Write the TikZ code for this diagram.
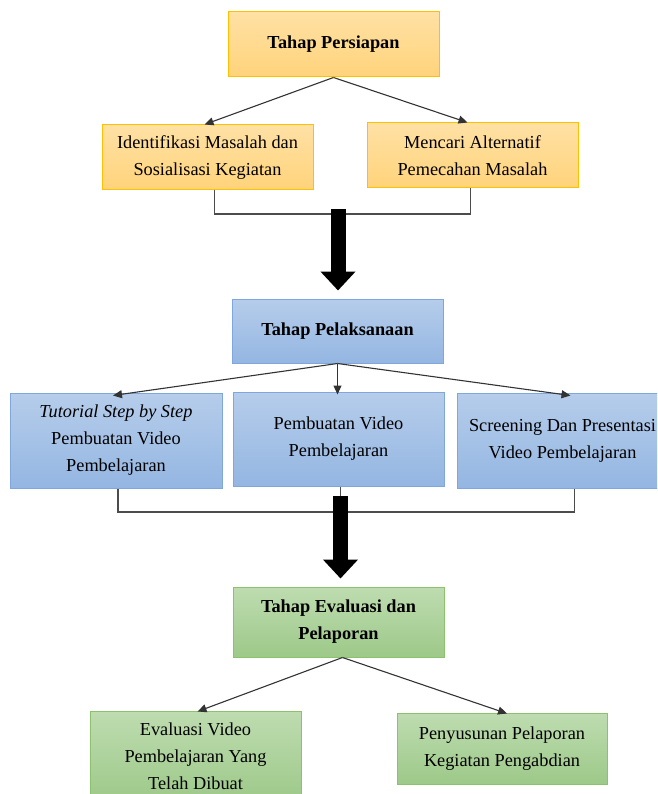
\documentclass[tikz,border=0pt]{standalone}
\usepackage{fontspec}
\setmainfont{Liberation Serif}
\usepackage{tikz}
\usetikzlibrary{arrows.meta}
\definecolor{PrepTop}{HTML}{FFE1A5}
\definecolor{PrepBot}{HTML}{FFD37A}
\definecolor{PrepLine}{HTML}{FFC000}
\definecolor{ExecTop}{HTML}{B6CDEB}
\definecolor{ExecBot}{HTML}{94B6E2}
\definecolor{ExecLine}{HTML}{7FA7DC}
\definecolor{EvalTop}{HTML}{BEDCB0}
\definecolor{EvalBot}{HTML}{9DC989}
\definecolor{EvalLine}{HTML}{8CC26C}
\tikzset{
  flow/box/.style={draw, line width=1pt, align=center, minimum width=211pt, minimum height=65pt, inner sep=2pt, font=\fontsize{18.3}{27}\selectfont},
  flow/prep/.style={flow/box, draw=PrepLine, top color=PrepTop, bottom color=PrepBot},
  flow/exec/.style={flow/box, draw=ExecLine, top color=ExecTop, bottom color=ExecBot},
  flow/eval/.style={flow/box, draw=EvalLine, top color=EvalTop, bottom color=EvalBot},
  flow/head/.style={font=\fontsize{18.3}{27}\selectfont\bfseries},
  flow/arr/.style={-{Triangle[length=9pt,width=8pt]}, line width=1.1pt, draw=black!80},
  flow/join/.style={line width=1.1pt, draw=black!70},
  flow/bigarr/.style={-{Triangle[length=19pt,width=34pt]}, line width=15pt, draw=black}
}
\begin{document}
\begin{tikzpicture}[x=1pt,y=-1pt]
  \useasboundingbox (0,0) rectangle (657,794);
  \clip (0,0) rectangle (657,794);
  \fill[white] (0,0) rectangle (657,794);

  % tahap persiapan
  \node[flow/prep, flow/head] (persiapan) at (333.5,44.5) {Tahap Persiapan};
  \node[flow/prep] (identifikasi) at (207.5,157.5) {Identifikasi Masalah dan\\Sosialisasi Kegiatan};
  \node[flow/prep] (mencari) at (472.5,155.5) {Mencari Alternatif\\Pemecahan Masalah};

  % tahap pelaksanaan
  \node[flow/exec, flow/head, minimum height=64pt] (pelaksanaan) at (337.5,331) {Tahap Pelaksanaan};
  \node[flow/exec, minimum width=212pt, minimum height=95pt] (tutorial) at (116,440.5) {\textit{Tutorial Step by Step}\\Pembuatan Video\\Pembelajaran};
  \node[flow/exec, minimum height=94pt] (pembuatan) at (338.5,439) {Pembuatan Video\\Pembelajaran};
  \node[flow/exec, minimum height=95pt] (screening) at (562.5,440.5) {Screening Dan Presentasi\\Video Pembelajaran};

  % tahap evaluasi
  \node[flow/eval, flow/head, minimum height=70pt] (evaluasi) at (338.5,622) {Tahap Evaluasi dan\\Pelaporan};
  \node[flow/eval, minimum height=91pt] (evalvideo) at (195.5,756.5) {Evaluasi Video\\Pembelajaran Yang\\Telah Dibuat};
  \node[flow/eval, minimum width=210pt, minimum height=71pt] (penyusunan) at (502,748.5) {Penyusunan Pelaporan\\Kegiatan Pengabdian};

  \draw[flow/arr] (persiapan.south) -- ([xshift=-3pt]identifikasi.north);
  \draw[flow/arr] (persiapan.south) -- ([xshift=-5pt]mencari.north);
  \draw[flow/arr] (pelaksanaan.south) -- ([xshift=-3pt,yshift=-3pt]tutorial.north);
  \draw[flow/arr] (pelaksanaan.south) -- ([yshift=-3pt]pelaksanaan.south |- pembuatan.north);
  \draw[flow/arr] (pelaksanaan.south) -- ([xshift=8pt,yshift=-3pt]screening.north);
  \draw[flow/arr] ([xshift=4pt]evaluasi.south) -- ([xshift=2pt,yshift=-1pt]evalvideo.north);
  \draw[flow/arr] ([xshift=4pt]evaluasi.south) -- ([xshift=5pt,yshift=-1pt]penyusunan.north);

  % gabungan ke tahap berikutnya
  \coordinate (join1) at (338,214);
  \draw[flow/join] ([xshift=7pt]identifikasi.south) |- (join1) -| ([xshift=-2pt]mencari.south);
  \draw[flow/bigarr] ([yshift=5pt]join1) -- ([yshift=8pt]join1 |- pelaksanaan.north);

  \coordinate (join2) at (340.5,512);
  \draw[flow/join] ([xshift=2pt]tutorial.south) |- (join2) -| ([xshift=12pt]screening.south);
  \draw[flow/join] ([xshift=2pt]pembuatan.south) -- (join2);
  \draw[flow/bigarr] ([yshift=16pt]join2) -- ([yshift=8pt]join2 |- evaluasi.north);
\end{tikzpicture}
\end{document}
